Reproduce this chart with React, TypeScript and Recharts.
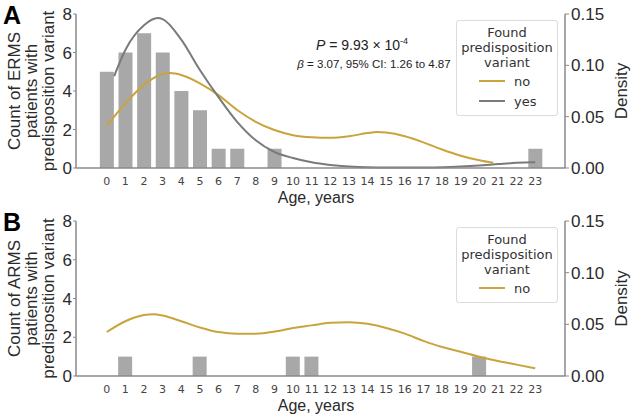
import React from "react";
import { ComposedChart, Bar, Line, XAxis, YAxis, Legend } from "recharts";

// x ticks (age in years)
const AGE_TICKS = [0, 1, 2, 3, 4, 5, 6, 7, 8, 9, 10, 11, 12, 13, 14, 15, 16, 17, 18, 19, 20, 21, 22, 23];
const COUNT_TICKS = [0, 2, 4, 6, 8];
const DENSITY_TICKS = [0, 0.05, 0.1, 0.15];

// panel A: ERMS histogram
const ERMS_AGES = [0, 1, 2, 3, 4, 5, 6, 7, 9, 23];
const ERMS_COUNTS = [5, 6, 7, 6, 4, 3, 1, 1, 1, 1];

// panel A: density curves
const ERMS_NO_AGES = [0, 1, 2, 3, 3.4, 4, 5, 6, 7, 8, 9, 10, 11, 12, 13, 14, 14.5, 15, 16, 17, 18, 19, 20, 20.75];
const ERMS_NO_DENS = [0.041, 0.063, 0.081, 0.0916, 0.0925, 0.0906, 0.0825, 0.071, 0.0565, 0.045, 0.037, 0.032, 0.03, 0.0295, 0.031, 0.034, 0.035, 0.0345, 0.031, 0.025, 0.018, 0.012, 0.0075, 0.005];
const ERMS_YES_AGES = [0.4, 1, 2, 2.75, 3, 4, 5, 6, 7, 8, 9, 10, 11, 12, 13, 14, 15, 16, 17, 18, 19, 20, 21, 22, 23];
const ERMS_YES_DENS = [0.0896, 0.115, 0.139, 0.146, 0.145, 0.125, 0.0955, 0.069, 0.045, 0.027, 0.0156, 0.0097, 0.0055, 0.003, 0.0015, 0.0007, 0.0005, 0.0004, 0.0005, 0.0008, 0.0015, 0.0025, 0.0038, 0.005, 0.0055];

// panel B: ARMS histogram
const ARMS_AGES = [1, 5, 10, 11, 20];
const ARMS_COUNTS = [1, 1, 1, 1, 1];
const ARMS_NO_AGES = [0, 1, 2, 2.5, 3, 4, 5, 6, 7, 8, 9, 10, 11, 12, 13, 14, 15, 16, 17, 18, 19, 20, 21, 22, 23];
const ARMS_NO_DENS = [0.0426, 0.053, 0.059, 0.0598, 0.0585, 0.053, 0.047, 0.0425, 0.0408, 0.041, 0.043, 0.0465, 0.049, 0.0515, 0.052, 0.0505, 0.0465, 0.041, 0.034, 0.028, 0.0235, 0.0187, 0.0145, 0.011, 0.0074];

const GOLD = "#c9a43c";
const GREY_LINE = "#7a7a7a";
const BAR_FILL = "#a8a8a8";
const SPINE = "#8a8a8a";
const TEXT = "#2b2b2b";
const BAR_W = 14;

const zip = (xs: number[], ys: number[], key: string) =>
  xs.map((x, i) => ({ age: x, [key]: ys[i] }));

type Series = { name: string; color: string; data: Record<string, number>[] };

// histogram bars: keep the scale position, force a fixed width
function HistBar(props: any) {
  const { x, y, width, height } = props;
  if (!height) return <g />;
  return <rect x={x + width / 2 - BAR_W / 2} y={y} width={BAR_W} height={height} fill={BAR_FILL} />;
}

function LegendBox({ items }: { items: Series[] }) {
  return (
    <div
      style={{
        width: 100,
        background: "#fff",
        border: "1px solid #dcdcdc",
        borderRadius: 3,
        fontFamily: "DejaVu Sans",
        fontSize: 13,
        color: "#333",
        textAlign: "center",
        lineHeight: "15px",
        padding: "4px 0 5px",
      }}
    >
      <div>Found</div>
      <div>predisposition</div>
      <div>variant</div>
      {items.map((it) => (
        <div key={it.name} style={{ display: "flex", alignItems: "center", height: 18, marginTop: 2 }}>
          <span style={{ width: 26, height: 2, background: it.color, marginLeft: 22 }} />
          <span style={{ marginLeft: 9 }}>{it.name}</span>
        </div>
      ))}
    </div>
  );
}

type PanelProps = {
  letter: string;
  height: number;
  top: number;
  xAxisHeight: number;
  barAges: number[];
  barCounts: number[];
  series: Series[];
  yLabel: string[];
  legendTop: number;
  children?: React.ReactNode;
};

function Panel({ letter, height, top, xAxisHeight, barAges, barCounts, series, yLabel, legendTop, children }: PanelProps) {
  const bars = barAges.map((a, i) => ({ age: a, count: barCounts[i] }));
  const plotBottom = height - xAxisHeight;
  const midY = (top + plotBottom) / 2;
  return (
    <ComposedChart width={633} height={height} data={bars} margin={{ top, right: 0, bottom: 0, left: 0 }}>
      <XAxis
        dataKey="age"
        type="number"
        domain={[-1.65, 24.6]}
        allowDataOverflow
        ticks={AGE_TICKS}
        interval={0}
        height={xAxisHeight}
        tickLine={false}
        tickSize={7}
        tickMargin={2}
        axisLine={{ stroke: SPINE, strokeWidth: 1.5 }}
        tick={{ fontSize: 11, fontFamily: "DejaVu Sans", fill: "#444" }}
      />
      <XAxis
        xAxisId="top"
        orientation="top"
        dataKey="age"
        type="number"
        domain={[-1.65, 24.6]}
        allowDataOverflow
        height={0}
        tick={false}
        tickLine={false}
        axisLine={{ stroke: SPINE, strokeWidth: 1.5 }}
      />
      <YAxis
        yAxisId="left"
        width={76}
        domain={[0, 8]}
        ticks={COUNT_TICKS}
        tickSize={3}
        tickMargin={1}
        tickLine={{ stroke: SPINE }}
        axisLine={{ stroke: SPINE, strokeWidth: 1.5 }}
        tick={{ fontSize: 17, fontFamily: "Liberation Sans", fill: TEXT }}
      />
      <YAxis
        yAxisId="right"
        orientation="right"
        width={68}
        domain={[0, 0.15]}
        ticks={DENSITY_TICKS}
        tickFormatter={(v: number) => v.toFixed(2)}
        tickSize={4}
        tickMargin={2}
        tickLine={{ stroke: SPINE }}
        axisLine={{ stroke: SPINE, strokeWidth: 1.5 }}
        tick={{ fontSize: 17, fontFamily: "Liberation Sans", fill: TEXT }}
      />
      <Bar yAxisId="left" dataKey="count" fill={BAR_FILL} shape={HistBar} isAnimationActive={false} />
      {series.map((s) => (
        <Line
          key={s.name}
          yAxisId="right"
          data={s.data}
          dataKey="density"
          type="monotone"
          stroke={s.color}
          strokeWidth={2}
          dot={false}
          activeDot={false}
          isAnimationActive={false}
        />
      ))}
      <Legend
        layout="horizontal"
        verticalAlign="middle"
        align="center"
        wrapperStyle={{ left: 456, top: legendTop, width: 102 }}
        content={() => <LegendBox items={series} />}
      />
      <text x={3} y={top + 10} fontFamily="Liberation Sans" fontWeight="bold" fontSize={25} fill="#000">
        {letter}
      </text>
      <text
        x={0}
        y={0}
        transform={`translate(20, ${midY}) rotate(-90)`}
        textAnchor="middle"
        fontFamily="Liberation Sans"
        fontSize={17}
        fill={TEXT}
      >
        {yLabel.map((l, i) => (
          <tspan key={i} x={0} dy={i === 0 ? 0 : 17}>
            {l}
          </tspan>
        ))}
      </text>
      <text
        x={0}
        y={0}
        transform={`translate(627, ${midY}) rotate(-90)`}
        textAnchor="middle"
        fontFamily="Liberation Sans"
        fontSize={17}
        fill={TEXT}
      >
        Density
      </text>
      <text x={316} y={plotBottom + 35} textAnchor="middle" fontFamily="Liberation Sans" fontSize={16} fill={TEXT}>
        Age, years
      </text>
      {children}
    </ComposedChart>
  );
}

export default function App() {
  const ermsSeries: Series[] = [
    { name: "no", color: GOLD, data: zip(ERMS_NO_AGES, ERMS_NO_DENS, "density") },
    { name: "yes", color: GREY_LINE, data: zip(ERMS_YES_AGES, ERMS_YES_DENS, "density") },
  ];
  const armsSeries: Series[] = [{ name: "no", color: GOLD, data: zip(ARMS_NO_AGES, ARMS_NO_DENS, "density") }];
  return (
    <div style={{ position: "absolute", left: 0, top: 0, width: 633, height: 419, background: "#fff" }}>
      <div style={{ position: "absolute", left: 0, top: 0 }}>
        <Panel
          letter="A"
          height={210}
          top={14}
          xAxisHeight={42}
          barAges={ERMS_AGES}
          barCounts={ERMS_COUNTS}
          series={ermsSeries}
          yLabel={["Count of ERMS", "patients with", "predisposition variant"]}
          legendTop={20}
        >
          <text x={362} y={50} textAnchor="middle" fontFamily="Liberation Sans Narrow, Liberation Sans" fontSize={14} fill="#222">
            <tspan fontStyle="italic">P</tspan>
            <tspan> = 9.93 × 10</tspan>
            <tspan dy={-6} fontSize={9}>-4</tspan>
          </text>
          <text x={374} y={68} textAnchor="middle" fontFamily="Liberation Sans Narrow, Liberation Sans" fontSize={11.5} fill="#222">
            <tspan fontStyle="italic">β</tspan> = 3.07, 95% CI: 1.26 to 4.87
          </text>
        </Panel>
      </div>
      <div style={{ position: "absolute", left: 0, top: 195 }}>
        <Panel
          letter="B"
          height={224}
          top={26}
          xAxisHeight={43}
          barAges={ARMS_AGES}
          barCounts={ARMS_COUNTS}
          series={armsSeries}
          yLabel={["Count of ARMS", "patients with", "predisposition variant"]}
          legendTop={32}
        />
      </div>
    </div>
  );
}
